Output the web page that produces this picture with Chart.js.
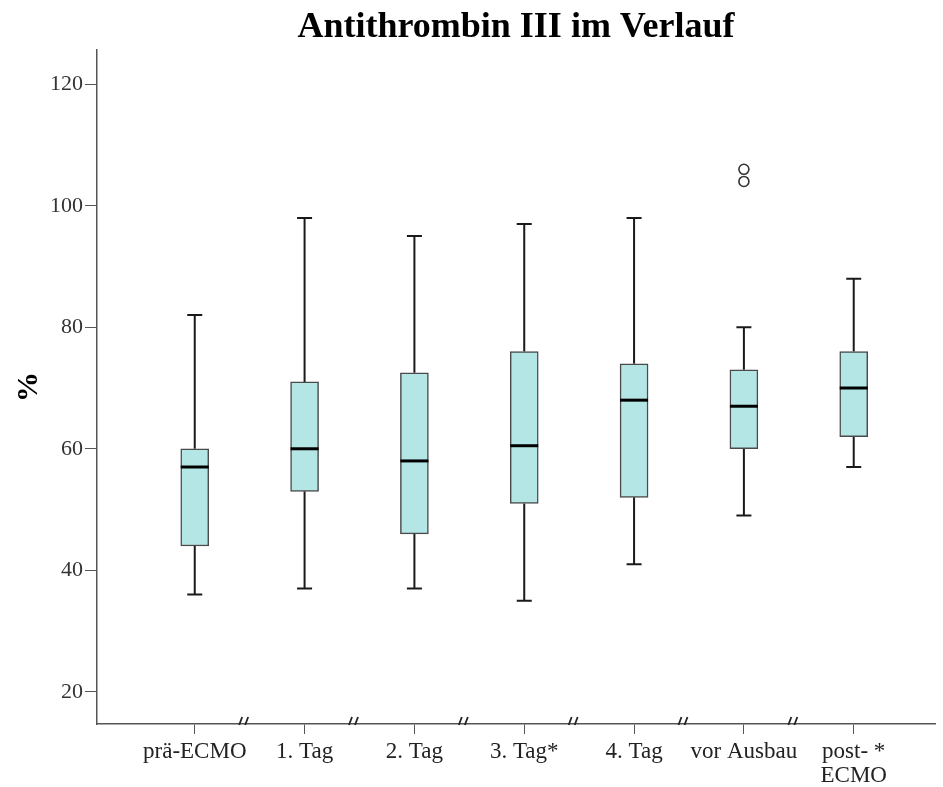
<!DOCTYPE html>
<html>
<head>
<meta charset="utf-8">
<script src="https://cdn.jsdelivr.net/npm/chart.js@4.4.0/dist/chart.umd.min.js"></script>
<style>
  body { margin: 0; background: #fff; }
  canvas { display: block; }
</style>
</head>
<body>
<canvas id="boxChart" width="943" height="787"></canvas>
<script>
// Box plot data
const categories = ['prä-ECMO', '1. Tag', '2. Tag', '3. Tag*', '4. Tag', 'vor Ausbau', ['post- *', 'ECMO']];
const whiskerLow = [36, 37, 37, 35, 41, 49, 57];
const q1 = [44, 53, 46, 51, 52, 60, 62];
const median = [57, 60, 58, 60.5, 68, 67, 70];
const q3 = [60, 71, 72.5, 76, 74, 73, 76];
const whiskerHigh = [82, 98, 95, 97, 98, 80, 88];
const outlierCats = [5, 5];
const outlierValues = [106, 104];
const yTicks = [20, 40, 60, 80, 100, 120];

const boxWidth = 28;
const capWidth = 15;
const lineColor = '#555555';

// whiskers behind the boxes, medians and axis breaks on top
const boxPlotPlugin = {
    id: 'boxPlot',
    beforeDatasetsDraw(chart) {
        const ctx = chart.ctx;
        const x = chart.scales.x, y = chart.scales.y;
        ctx.save();
        ctx.strokeStyle = '#1a1a1a';
        ctx.lineWidth = 2;
        categories.forEach((c, i) => {
            const px = x.getPixelForValue(i);
            const lo = y.getPixelForValue(whiskerLow[i]);
            const hi = y.getPixelForValue(whiskerHigh[i]);
            ctx.beginPath();
            ctx.moveTo(px, lo); ctx.lineTo(px, y.getPixelForValue(q1[i]));
            ctx.moveTo(px, hi); ctx.lineTo(px, y.getPixelForValue(q3[i]));
            ctx.moveTo(px - capWidth / 2, lo); ctx.lineTo(px + capWidth / 2, lo);
            ctx.moveTo(px - capWidth / 2, hi); ctx.lineTo(px + capWidth / 2, hi);
            ctx.stroke();
        });
        ctx.restore();
    },
    afterDatasetsDraw(chart) {
        const ctx = chart.ctx;
        const x = chart.scales.x, y = chart.scales.y;
        ctx.save();
        ctx.strokeStyle = '#000';
        ctx.lineWidth = 3;
        categories.forEach((c, i) => {
            const px = x.getPixelForValue(i);
            const pm = y.getPixelForValue(median[i]);
            ctx.beginPath();
            ctx.moveTo(px - boxWidth / 2, pm);
            ctx.lineTo(px + boxWidth / 2, pm);
            ctx.stroke();
        });
        // axis break marks between categories
        const base = chart.chartArea.bottom;
        ctx.lineWidth = 1.8;
        ctx.strokeStyle = '#222';
        for (let i = 0; i < categories.length - 1; i++) {
            const px = x.getPixelForValue(i + 0.45);
            ctx.beginPath();
            ctx.moveTo(px - 5, base + 1); ctx.lineTo(px - 2, base - 7);
            ctx.moveTo(px + 1, base + 1); ctx.lineTo(px + 4, base - 7);
            ctx.stroke();
        }
        ctx.restore();
    }
};

const ctx = document.getElementById('boxChart').getContext('2d');
new Chart(ctx, {
    type: 'bar',
    data: {
        datasets: [
            {
                label: 'Box',
                data: categories.map((c, i) => ({ x: i, y: [q1[i], q3[i]] })),
                backgroundColor: '#b4e6e6',
                borderColor: '#4a4a4a',
                borderWidth: 1.5,
                borderSkipped: false,
                barThickness: boxWidth,
                order: 2
            },
            {
                type: 'scatter',
                label: 'Ausreißer',
                data: outlierValues.map((v, i) => ({ x: outlierCats[i], y: v })),
                pointStyle: 'circle',
                pointRadius: 5,
                pointBorderWidth: 1.6,
                pointBorderColor: '#333',
                pointBackgroundColor: '#fff',
                order: 1
            }
        ]
    },
    options: {
        responsive: false,
        animation: false,
        devicePixelRatio: 1,
        layout: { padding: { left: 11, right: 8, top: 0, bottom: 0 } },
        plugins: {
            legend: { display: false },
            tooltip: { enabled: false },
            title: {
                display: true,
                fullSize: false,
                text: 'Antithrombin III im Verlauf',
                color: '#000',
                font: { family: 'Liberation Serif', size: 36, weight: 'bold', lineHeight: 1.2 },
                padding: { top: 6, bottom: 1 }
            }
        },
        scales: {
            x: {
                type: 'linear',
                offset: false,
                min: -0.89,
                max: 6.74,
                afterBuildTicks(scale) {
                    scale.ticks = categories.map((c, i) => ({ value: i }));
                },
                ticks: {
                    autoSkip: false,
                    maxRotation: 0,
                    color: '#222',
                    padding: 6,
                    font: { family: 'Liberation Serif', size: 23, lineHeight: 1.05 },
                    callback: (v) => categories[v]
                },
                grid: { drawOnChartArea: false, drawTicks: true, offset: false, tickLength: 10, color: lineColor },
                border: { display: true, color: lineColor, width: 1.5 },
                afterFit(scale) { scale.height = 63; }
            },
            y: {
                min: 14.7,
                max: 125.6,
                afterBuildTicks(scale) {
                    scale.ticks = yTicks.map(v => ({ value: v }));
                },
                title: {
                    display: true,
                    text: '%',
                    color: '#000',
                    padding: { top: 0, bottom: 0 },
                    font: { family: 'Liberation Serif', size: 30, weight: 'bold' }
                },
                ticks: {
                    color: '#333',
                    padding: 2,
                    font: { family: 'Liberation Serif', size: 22 }
                },
                grid: { drawOnChartArea: false, drawTicks: true, tickLength: 12, color: lineColor },
                border: { display: true, color: lineColor, width: 1.5 },
                afterFit(scale) { scale.width = 86; }
            }
        }
    },
    plugins: [boxPlotPlugin]
});
</script>
</body>
</html>
